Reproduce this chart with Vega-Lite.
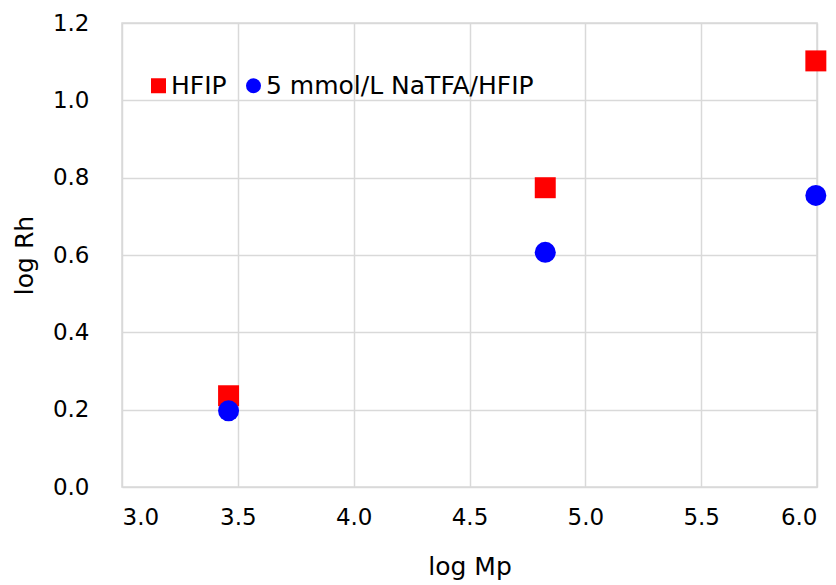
{
  "$schema": "https://vega.github.io/schema/vega-lite/v6.json",
  "autosize": "none",
  "padding": {"left": 122, "top": 23, "right": 19, "bottom": 98},
  "width": 695,
  "height": 464,
  "background": "white",
  "config": {
    "font": "DejaVu Sans",
    "view": {"stroke": "#d9d9d9", "strokeWidth": 1.5},
    "axis": {
      "gridColor": "#d9d9d9",
      "gridWidth": 1.5,
      "domain": false,
      "ticks": false,
      "labelColor": "#000000",
      "titleFontWeight": "normal",
      "titleColor": "#000000"
    }
  },
  "data": {
    "values": [
      {"series": "HFIP", "logMp": 3.46, "logRh": 0.236},
      {"series": "HFIP", "logMp": 4.827, "logRh": 0.774},
      {"series": "HFIP", "logMp": 5.995, "logRh": 1.102},
      {"series": "5 mmol/L NaTFA/HFIP", "logMp": 3.46, "logRh": 0.197},
      {"series": "5 mmol/L NaTFA/HFIP", "logMp": 4.827, "logRh": 0.607},
      {"series": "5 mmol/L NaTFA/HFIP", "logMp": 5.995, "logRh": 0.754}
    ]
  },
  "mark": {"type": "point", "filled": true, "opacity": 1, "size": 440},
  "encoding": {
    "x": {
      "field": "logMp", "type": "quantitative",
      "scale": {"domain": [3.0, 6.0], "nice": false, "zero": false},
      "axis": {"values": [3.0, 3.5, 4.0, 4.5, 5.0, 5.5, 6.0], "format": ".1f", "labelFontSize": 23, "labelPadding": 19, "title": "log Mp", "titleFontSize": 25, "titlePadding": 25}
    },
    "y": {
      "field": "logRh", "type": "quantitative",
      "scale": {"domain": [0, 1.2], "nice": false},
      "axis": {"values": [0, 0.2, 0.4, 0.6, 0.8, 1.0, 1.2], "format": ".1f", "labelFontSize": 23, "labelPadding": 33, "title": "log Rh", "titleFontSize": 25, "titlePadding": 15}
    },
    "color": {
      "field": "series", "type": "nominal",
      "scale": {"domain": ["HFIP", "5 mmol/L NaTFA/HFIP"], "range": ["#ff0000", "#0000ff"]},
      "legend": {
        "title": null,
        "orient": "none",
        "legendX": 24,
        "legendY": 50,
        "direction": "horizontal",
        "labelFontSize": 25,
        "labelColor": "#000000",
        "labelLimit": 0,
        "symbolSize": 225,
        "symbolOpacity": 1,
        "labelOffset": 0,
        "columnPadding": 14
      }
    },
    "shape": {
      "field": "series", "type": "nominal",
      "scale": {"domain": ["HFIP", "5 mmol/L NaTFA/HFIP"], "range": ["square", "circle"]}
    }
  }
}
